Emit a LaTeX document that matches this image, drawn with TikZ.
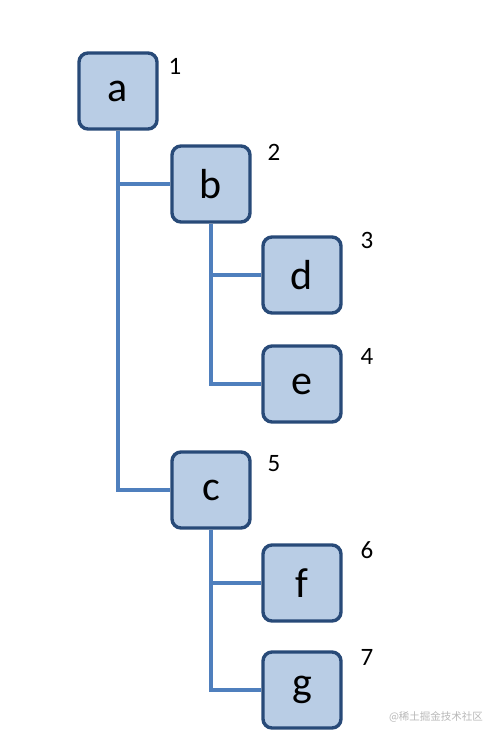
\documentclass[tikz,border=0pt]{standalone}
\usepackage{fontspec}
\setmainfont{Carlito}
\newfontfamily\cjk{Noto Sans CJK SC}
\usetikzlibrary{positioning}
\definecolor{treefill}{HTML}{B9CDE5}
\definecolor{treeedge}{HTML}{284A78}
\definecolor{treeline}{HTML}{4F7FBD}
\definecolor{markgray}{HTML}{B8B8B8}

\begin{document}
\begin{tikzpicture}[x=1pt,y=-1pt,
  tnode/.style={draw=treeedge,fill=treefill,line width=3.4pt,rounded corners=9pt,
               minimum width=78pt,minimum height=76pt,inner sep=0pt,
               font=\fontsize{42}{44}\selectfont},
  num/.style={font=\fontsize{25}{28}\selectfont,inner sep=0pt},
  link/.style={treeline,line width=3.2pt}]
  \useasboundingbox (0,0) rectangle (497,741);
  % nodes of the tree
  \node[tnode] (a) at (118,91) {a};
  \node[tnode] (b) at (211,184) {b};
  \node[tnode] (d) at (302,275) {d};
  \node[tnode] (e) at (302,384) {e};
  \node[tnode] (c) at (211,490) {c};
  \node[tnode] (f) at (302,583) {f};
  \node[tnode] (g) at (302,690) {g};
  % visiting order
  \node[num] (n1) at (175,66) {1};
  \node[num] (n2) at (274,152) {2};
  \node[num] (n3) at (367,240) {3};
  \node[num] (n4) at (367,356) {4};
  \node[num] (n5) at (274,464) {5};
  \node[num] (n6) at (367,550) {6};
  \node[num] (n7) at (367,657) {7};
  % branches
  \draw[link] (a.south) |- (b.west);
  \draw[link] (a.south) |- (c.west);
  \draw[link] (b.south) |- (d.west);
  \draw[link] (b.south) |- (e.west);
  \draw[link] (c.south) |- (f.west);
  \draw[link] (c.south) |- (g.west);
  \node[text=markgray,font=\cjk\fontsize{10.5}{12}\selectfont,inner sep=0pt] (wm) at (436,717) {@稀土掘金技术社区};
\end{tikzpicture}
\end{document}
